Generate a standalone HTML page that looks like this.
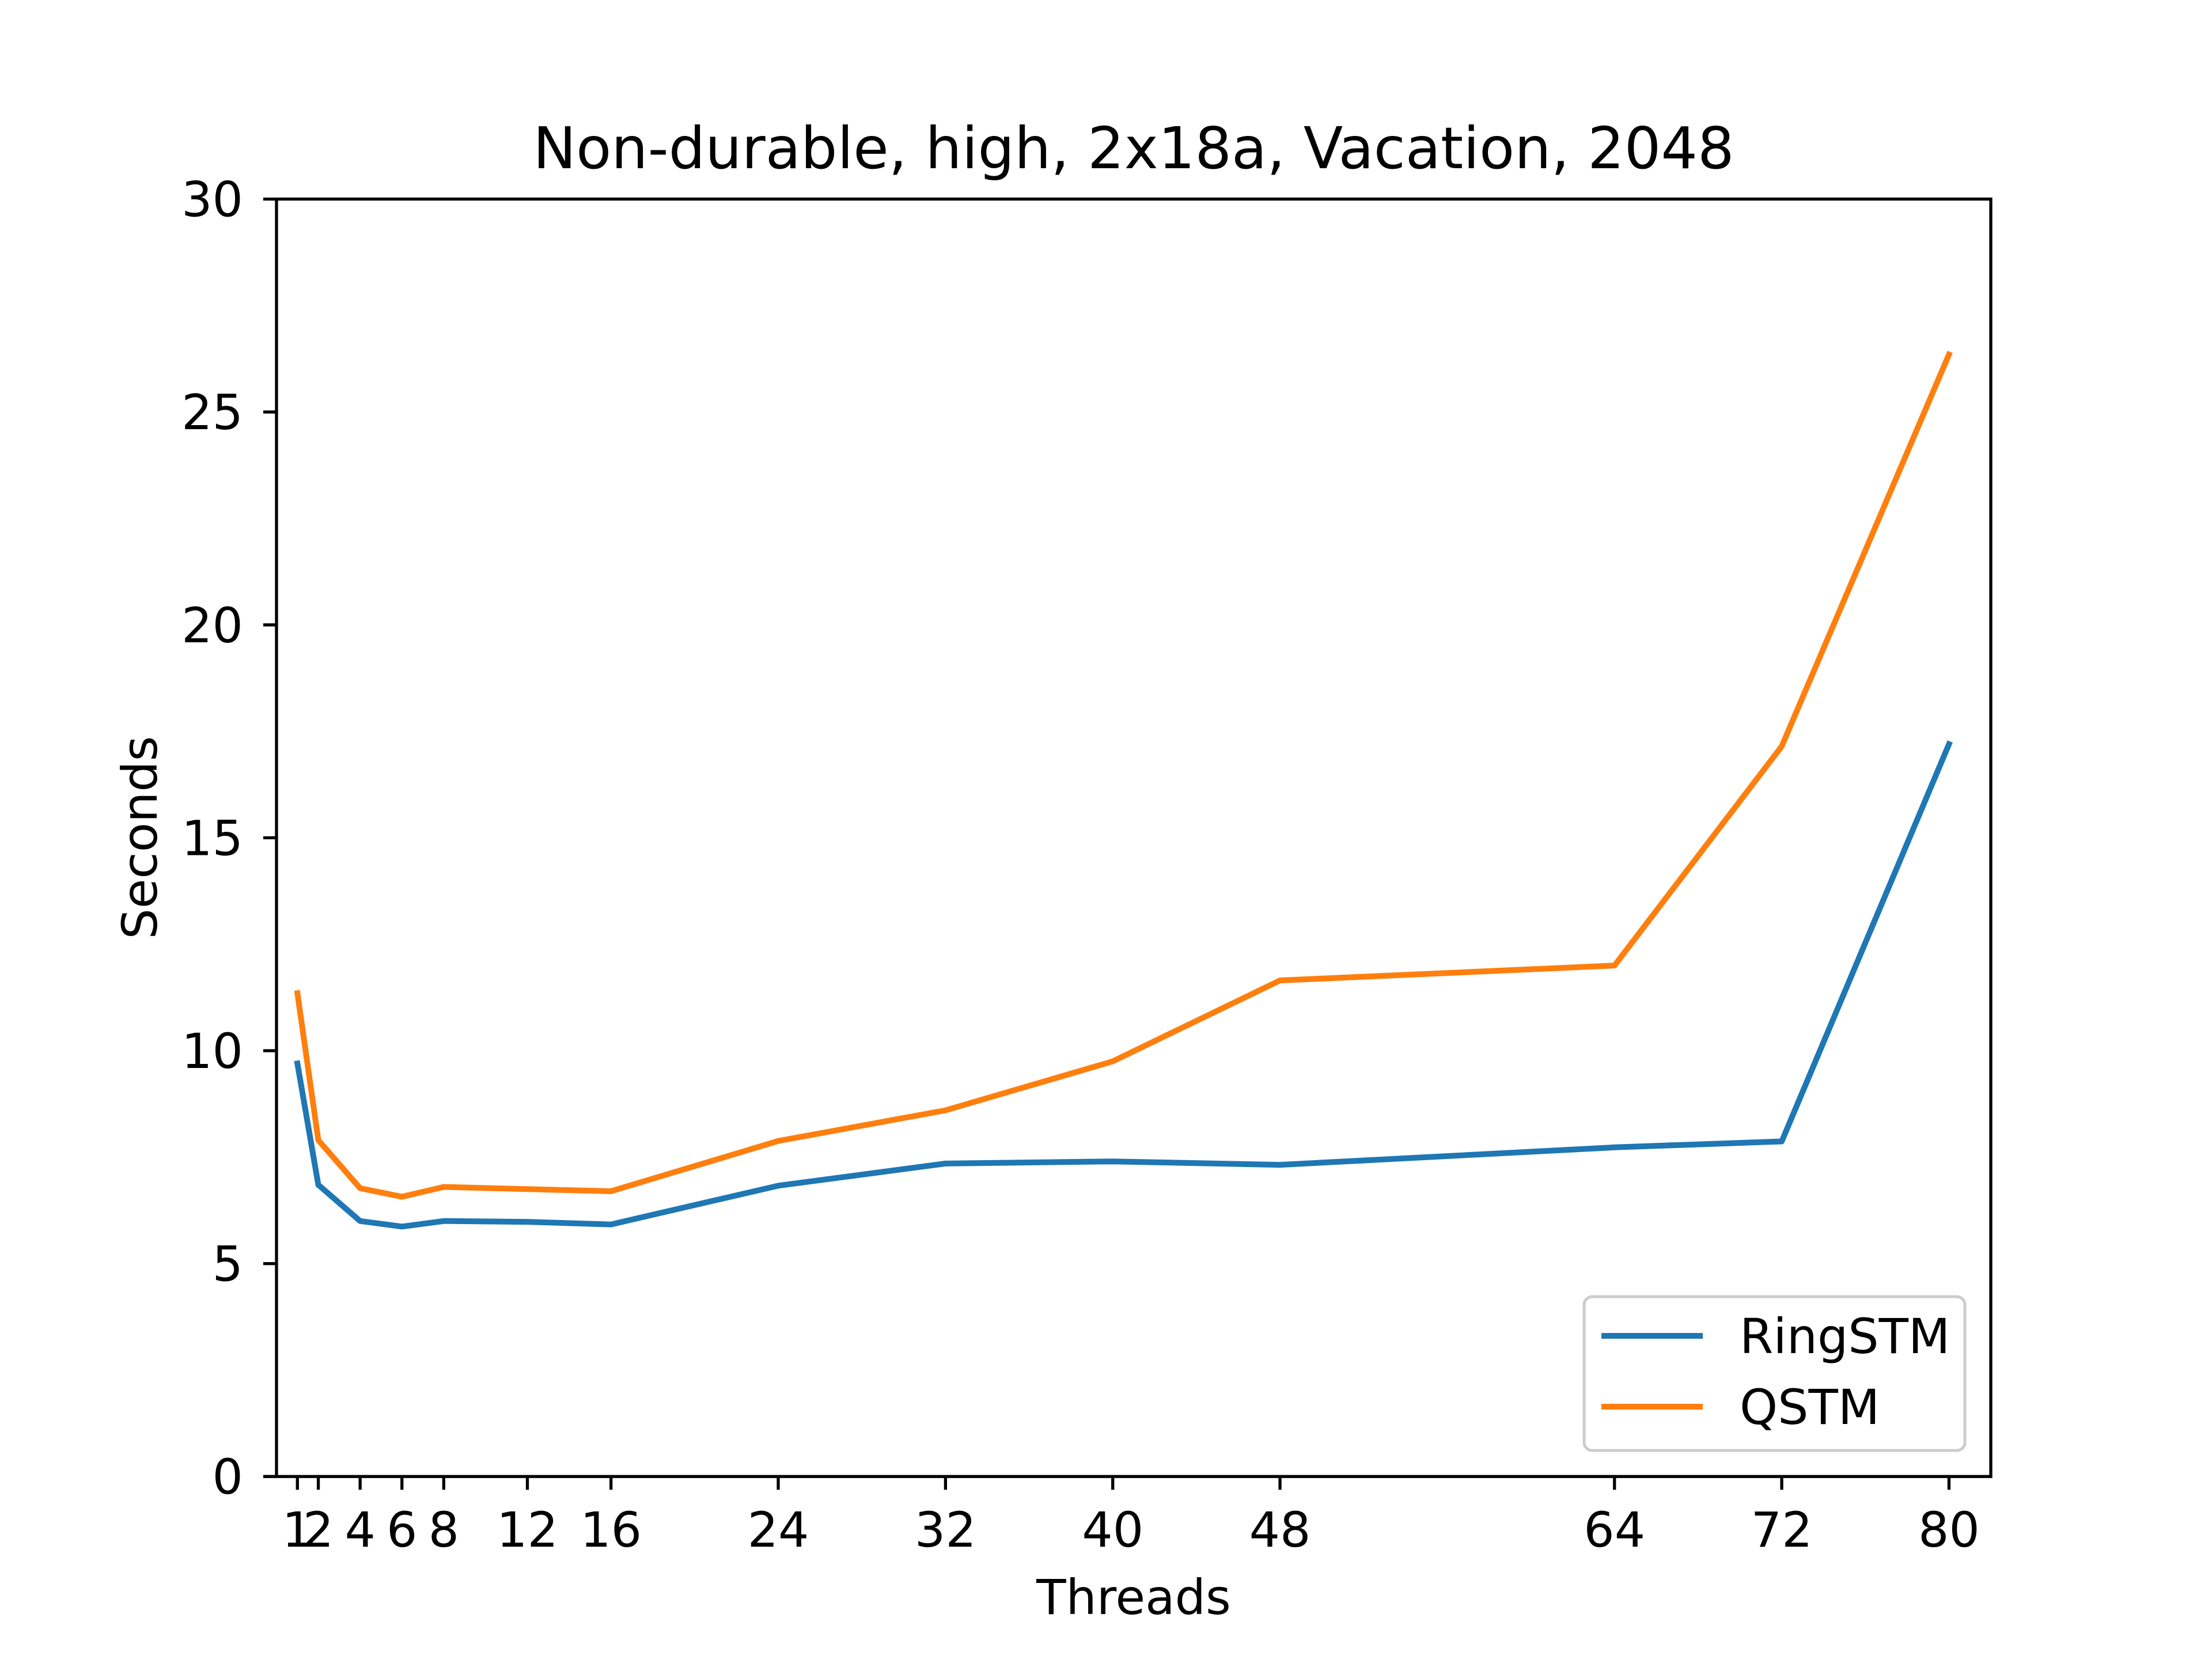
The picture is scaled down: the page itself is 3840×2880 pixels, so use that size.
<!DOCTYPE html>
<html><head><meta charset="utf-8"><style>
html,body{margin:0;padding:0;background:#fff}
svg{display:block;font-family:"DejaVu Sans","Liberation Sans",sans-serif}
</style></head><body>
<svg id="chart" width="3840" height="2880" viewBox="0 0 3840 2880" xmlns="http://www.w3.org/2000/svg">
<rect width="3840" height="2880" fill="#fff"/>
<text x="1968" y="292" font-size="100" text-anchor="middle">Non-durable, high, 2x18a, Vacation, 2048</text>
<g id="grid"></g>
<g id="series"></g>
<text x="1968" y="2802" font-size="84" text-anchor="middle">Threads</text>
<text x="0" y="0" font-size="84" text-anchor="middle" transform="translate(272,1454) rotate(-90)">Seconds</text>
<g>
<rect x="2750" y="2251" width="661" height="267" rx="14" fill="#fff" fill-opacity="0.8" stroke="#cccccc" stroke-width="5"/>
<line x1="2780" y1="2319" x2="2956" y2="2319" stroke="#1f77b4" stroke-width="10"/>
<text x="3020" y="2349" font-size="84">RingSTM</text>
<line x1="2780" y1="2442" x2="2956" y2="2442" stroke="#ff7f0e" stroke-width="10"/>
<text x="3020" y="2472" font-size="84">QSTM</text>
</g>
</svg>
<script>
const threads=[1,2,4,6,8,12,16,24,32,40,48,64,72,80];
const ringstm=[9.7,6.85,6.0,5.87,6.0,5.98,5.92,6.83,7.35,7.4,7.32,7.73,7.87,17.2];
const qstm=[11.35,7.9,6.77,6.57,6.8,6.75,6.7,7.88,8.6,9.75,11.65,12.0,17.15,26.35];
const xTicks=[1,2,4,6,8,12,16,24,32,40,48,64,72,80];
const yTicks=[0,5,10,15,20,25,30];
const L=480,R=3456,T=345.6,B=2563.2;
const xs=v=>L+(v-0)/82*(R-L);
const ys=v=>B-(v-0)/30*(B-T);
const NS="http://www.w3.org/2000/svg";
const g=document.getElementById('grid'),sg=document.getElementById('series');
function mk(t,a,p){const e=document.createElementNS(NS,t);for(const k in a)e.setAttribute(k,a[k]);p.appendChild(e);return e;}
xTicks.forEach(v=>{
 const l=mk('line',{x1:xs(v),x2:xs(v),y1:B,y2:B+23,stroke:'#000','stroke-width':5.3},g);
 
 
 const t=mk('text',{x:xs(v),y:B+122,'font-size':84,'text-anchor':'middle'},g);t.textContent=v;
 
 
});
yTicks.forEach(v=>{
 const l=mk('line',{x1:L-23,x2:L,y1:ys(v),y2:ys(v),stroke:'#000','stroke-width':5.3},g);
 
 
 const t=mk('text',{x:L-58,y:ys(v)+30,'font-size':84,'text-anchor':'end'},g);t.textContent=v;
 
 
});
[[ringstm,'#1f77b4','line-ringstm'],[qstm,'#ff7f0e','line-qstm']].forEach(([d,c,n])=>{
 const p=mk('polyline',{points:threads.map((x,i)=>xs(x)+','+ys(d[i])).join(' '),fill:'none',stroke:c,'stroke-width':10,'stroke-linecap':'square','stroke-linejoin':'round'},sg);
 
 
});
const f=mk('rect',{x:L,y:T,width:R-L,height:B-T,fill:'none',stroke:'#000','stroke-width':5.3},g);


</script>
</body></html>
